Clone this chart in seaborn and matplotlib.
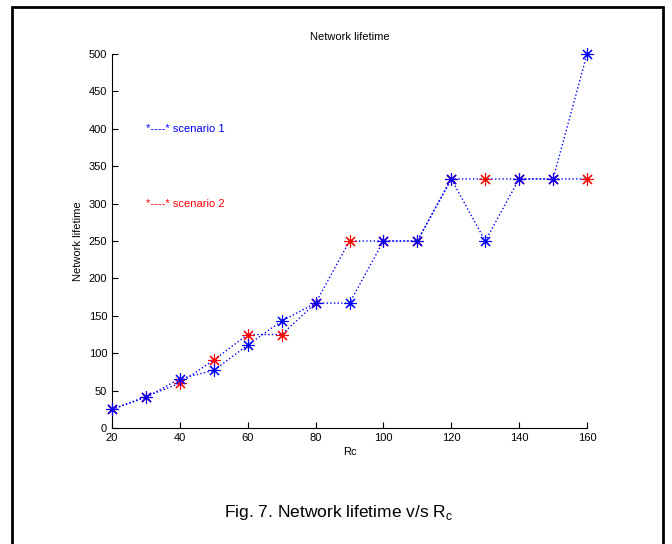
import numpy as np
import pandas as pd
import seaborn as sns
import matplotlib.pyplot as plt
from matplotlib.patches import Rectangle

# data
rc = [20, 30, 40, 50, 60, 70, 80, 90, 100, 110, 120, 130, 140, 150, 160]
scenario1 = [25, 41, 66, 77, 111, 143, 167, 167, 250, 250, 333, 250, 333, 333, 500]
scenario2 = [25, 42, 60, 91, 125, 125, 167, 250, 250, 250, 333, 333, 333, 333, 333]

df = pd.DataFrame({"Rc": rc, "s1": scenario1, "s2": scenario2})

sns.set_style("white")
plt.rcParams['font.family'] = ['Liberation Sans', 'DejaVu Sans']
plt.rcParams['text.color'] = 'black'
plt.rcParams['axes.labelcolor'] = 'black'

fig = plt.figure(figsize=(6.72, 5.44), dpi=100)
ax = fig.add_axes([0.1667, 0.2132, 0.7068, 0.6875])

asterisk = (8, 2, 0)

# dotted connecting lines (both drawn in blue)
sns.lineplot(data=df, x="Rc", y="s2", ax=ax, color="blue", linestyle=":", lw=1)
sns.lineplot(data=df, x="Rc", y="s1", ax=ax, color="blue", linestyle=":", lw=1)

# markers: red under blue
sns.scatterplot(data=df, x="Rc", y="s2", ax=ax, marker=asterisk, s=75,
                color="red", edgecolor="red", linewidth=0.8, zorder=3)
sns.scatterplot(data=df, x="Rc", y="s1", ax=ax, marker=asterisk, s=75,
                color="blue", edgecolor="blue", linewidth=0.8, zorder=4)
for c in ax.collections:
    c.set_clip_on(False)

ax.set_xlim(20, 160)
ax.set_ylim(0, 500)
ax.set_xticks(np.arange(20, 161, 20))
ax.set_yticks(np.arange(0, 501, 50))
ax.tick_params(direction="in", length=4, width=0.8, labelsize=8, colors="black",
               left=True, bottom=True)
for s in ["top", "right"]:
    ax.spines[s].set_visible(False)
for s in ["left", "bottom"]:
    ax.spines[s].set_color("black")
    ax.spines[s].set_linewidth(0.8)

ax.set_xlabel("Rc", fontsize=8, labelpad=3)
ax.set_ylabel("Network lifetime", fontsize=8, labelpad=4)
ax.set_title("Network lifetime", fontsize=8, pad=10)

ax.text(30, 400, "*----* scenario 1", color="blue", fontsize=8, va="center")
ax.text(30, 300, "*----* scenario 2", color="red", fontsize=8, va="center")

fig.text(0.503, 0.057, "Fig. 7. Network lifetime v/s R$_\\mathregular{c}$",
         fontsize=12.5, ha="center", va="center", color="black")

fig.patches.append(Rectangle((12 / 672, -0.02), (663 - 12) / 672, 1 - 7 / 544 + 0.02,
                             transform=fig.transFigure, fill=False,
                             edgecolor="black", lw=2, zorder=10))

fig.savefig("out.png", dpi=100)
